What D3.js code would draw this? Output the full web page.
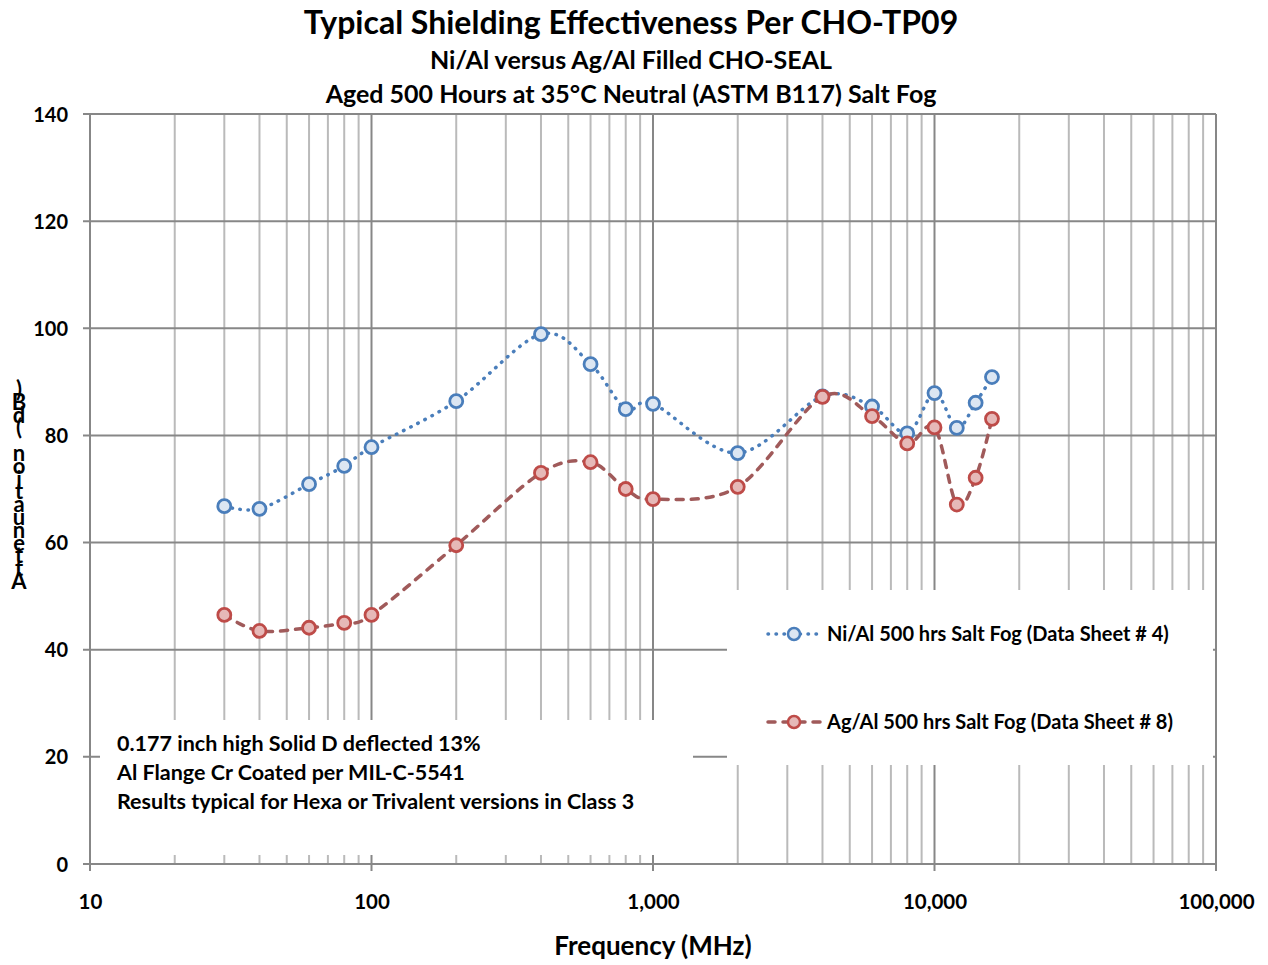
<!DOCTYPE html>
<html>
<head>
<meta charset="utf-8">
<script src="https://cdn.jsdelivr.net/npm/d3@7"></script>
<style>
  body { margin: 0; background: #fff; }
  svg text { font-family: Lato, "Open Sans", sans-serif; font-weight: bold; fill: #000; }
</style>
</head>
<body>
<svg id="chart"></svg>
<script>
/** Chart data */
const freqs = [30, 40, 60, 80, 100, 200, 400, 600, 800, 1000, 2000, 4000, 6000, 8000, 10000, 12000, 14000, 16000];
const niAl = [66.8, 66.3, 70.9, 74.3, 77.8, 86.4, 98.9, 93.3, 84.9, 85.9, 76.7, 87.3, 85.4, 80.4, 87.9, 81.4, 86.1, 90.9];
const agAl = [46.5, 43.5, 44.1, 45.0, 46.5, 59.5, 73.0, 75.0, 70.0, 68.1, 70.4, 87.2, 83.6, 78.5, 81.5, 67.1, 72.1, 83.1];

const yTicks = [0, 20, 40, 60, 80, 100, 120, 140];
const xTicks = [10, 100, 1000, 10000, 100000];
const xTickLabels = ['10', '100', '1,000', '10,000', '100,000'];

const titleLines = [
    'Typical Shielding Effectiveness Per CHO-TP09',
    'Ni/Al versus Ag/Al Filled CHO-SEAL',
    'Aged 500 Hours at 35°C Neutral (ASTM B117) Salt Fog'
];
const seriesNames = ['Ni/Al 500 hrs Salt Fog (Data Sheet # 4)', 'Ag/Al 500 hrs Salt Fog (Data Sheet # 8)'];
const noteLines = [
    '0.177 inch high Solid D deflected 13%',
    'Al Flange Cr Coated per MIL-C-5541',
    'Results typical for Hexa or Trivalent versions in Class 3'
];
const yTitle = 'Attenuation (dB)';
const xTitle = 'Frequency (MHz)';

/** Main values */
let width = 1268;
let height = 965;
let plotLeft = 90, plotRight = 1216, plotTop = 114, plotBottom = 864;

let svg = d3.select('#chart').attr('width', width).attr('height', height);

let xScale = d3.scaleLog().domain([10, 100000]).range([plotLeft, plotRight]);
let yScale = d3.scaleLinear().domain([0, 140]).range([plotBottom, plotTop]);

const majorGrid = '#878787';
const minorGrid = '#bababa';

/** Grid lines */
const drawGrid = () => {
    let minor = [];
    [10, 100, 1000, 10000].forEach(d => {
        for (let k = 2; k <= 9; k++) minor.push(d * k);
    });

    svg.append('g').selectAll('line')
        .data(minor)
        .enter()
        .append('line')
        .attr('x1', d => xScale(d)).attr('x2', d => xScale(d))
        .attr('y1', plotTop).attr('y2', plotBottom)
        .attr('stroke', minorGrid)
        .attr('stroke-width', 2);

    svg.append('g').selectAll('line')
        .data(xTicks)
        .enter()
        .append('line')
        .attr('x1', d => xScale(d)).attr('x2', d => xScale(d))
        .attr('y1', plotTop).attr('y2', plotBottom + 7)
        .attr('stroke', majorGrid)
        .attr('stroke-width', 2);

    svg.append('g').selectAll('line')
        .data(yTicks)
        .enter()
        .append('line')
        .attr('x1', plotLeft - 7).attr('x2', plotRight)
        .attr('y1', d => yScale(d)).attr('y2', d => yScale(d))
        .attr('stroke', majorGrid)
        .attr('stroke-width', 2);
};

/** Axis labels (d3 axes, lines hidden) */
const drawAxes = () => {
    let xAxis = d3.axisBottom(xScale)
        .tickValues(xTicks)
        .tickSize(0)
        .tickPadding(0)
        .tickFormat((d, i) => xTickLabels[i]);

    let yAxis = d3.axisLeft(yScale)
        .tickValues(yTicks)
        .tickSize(0)
        .tickPadding(0)
        .tickFormat(d3.format('d'));

    let gx = svg.append('g')
        .attr('transform', `translate(0, ${plotBottom + 45})`)
        .call(xAxis);
    gx.select('.domain').remove();
    gx.selectAll('text').attr('font-size', 20.5).attr('dy', 0).attr('font-family', null);

    let gy = svg.append('g')
        .attr('transform', `translate(${plotLeft - 22}, 0)`)
        .call(yAxis);
    gy.select('.domain').remove();
    gy.selectAll('text').attr('font-size', 20).attr('dy', 7).attr('font-family', null);

    svg.append('text')
        .attr('x', 653).attr('y', 955)
        .attr('text-anchor', 'middle')
        .attr('font-size', 26)
        .text(xTitle);

    // y title: upright characters stacked bottom to top
    let chars = yTitle.split('');
    svg.append('g').selectAll('text')
        .data(chars)
        .enter()
        .append('text')
        .attr('x', 19)
        .attr('y', (c, i) => 589 - i * 12.8)
        .attr('text-anchor', 'middle')
        .attr('font-size', 22)
        .text(c => c);
};

/** Title */
const drawTitle = () => {
    let sizes = [32, 25, 25];
    let ys = [34, 69, 103];
    svg.append('g').selectAll('text')
        .data(titleLines)
        .enter()
        .append('text')
        .attr('x', 631)
        .attr('y', (d, i) => ys[i])
        .attr('text-anchor', 'middle')
        .attr('font-size', (d, i) => sizes[i])
        .text(d => d);
};

/** Boxes for legend and note */
const drawBoxes = () => {
    svg.append('rect')
        .attr('x', 727).attr('y', 590)
        .attr('width', 486).attr('height', 175)
        .attr('fill', '#fff');

    svg.append('rect')
        .attr('x', 100).attr('y', 720)
        .attr('width', 593).attr('height', 135)
        .attr('fill', '#fff');

    svg.append('g').selectAll('text')
        .data(noteLines)
        .enter()
        .append('text')
        .attr('x', 117)
        .attr('y', (d, i) => 751 + i * 29)
        .attr('font-size', 21.5)
        .text(d => d);
};

const series = [
    { name: seriesNames[0], values: niAl, line: '#4a7ebb', dash: '0.5 7.5', cap: 'round', stroke: '#4a7ebb', fill: '#dce6f2' },
    { name: seriesNames[1], values: agAl, line: '#a05a5a', dash: '7 8', cap: 'round', stroke: '#be4b48', fill: '#e6b9b8' }
];

/** Series lines and markers */
const drawSeries = () => {
    let line = d3.line()
        .x(d => xScale(d[0]))
        .y(d => yScale(d[1]))
        .curve(d3.curveCardinal.tension(0));

    series.forEach(s => {
        let pts = freqs.map((f, i) => [f, s.values[i]]);

        svg.append('path')
            .datum(pts)
            .attr('d', line)
            .attr('fill', 'none')
            .attr('stroke', s.line)
            .attr('stroke-width', 3.5)
            .attr('stroke-dasharray', s.dash)
            .attr('stroke-linecap', s.cap);

        svg.append('g').selectAll('circle')
            .data(pts)
            .enter()
            .append('circle')
            .attr('cx', d => xScale(d[0]))
            .attr('cy', d => yScale(d[1]))
            .attr('r', 6.5)
            .attr('fill', s.fill)
            .attr('stroke', s.stroke)
            .attr('stroke-width', 2.8);
    });
};

/** Legend */
const drawLegend = () => {
    let ys = [634, 722];
    series.forEach((s, i) => {
        let g = svg.append('g').attr('transform', `translate(0, ${ys[i]})`);
        g.append('line')
            .attr('x1', 768).attr('x2', 820)
            .attr('y1', 0).attr('y2', 0)
            .attr('stroke', s.line)
            .attr('stroke-width', 3.5)
            .attr('stroke-dasharray', s.dash)
            .attr('stroke-linecap', s.cap);
        g.append('circle')
            .attr('cx', 794).attr('cy', 0).attr('r', 6)
            .attr('fill', s.fill)
            .attr('stroke', s.stroke)
            .attr('stroke-width', 2.5);
        g.append('text')
            .attr('x', 827).attr('y', 7)
            .attr('font-size', 20)
            .text(s.name);
    });
};

drawGrid();
drawBoxes();
drawAxes();
drawTitle();
drawSeries();
drawLegend();
</script>
</body>
</html>
